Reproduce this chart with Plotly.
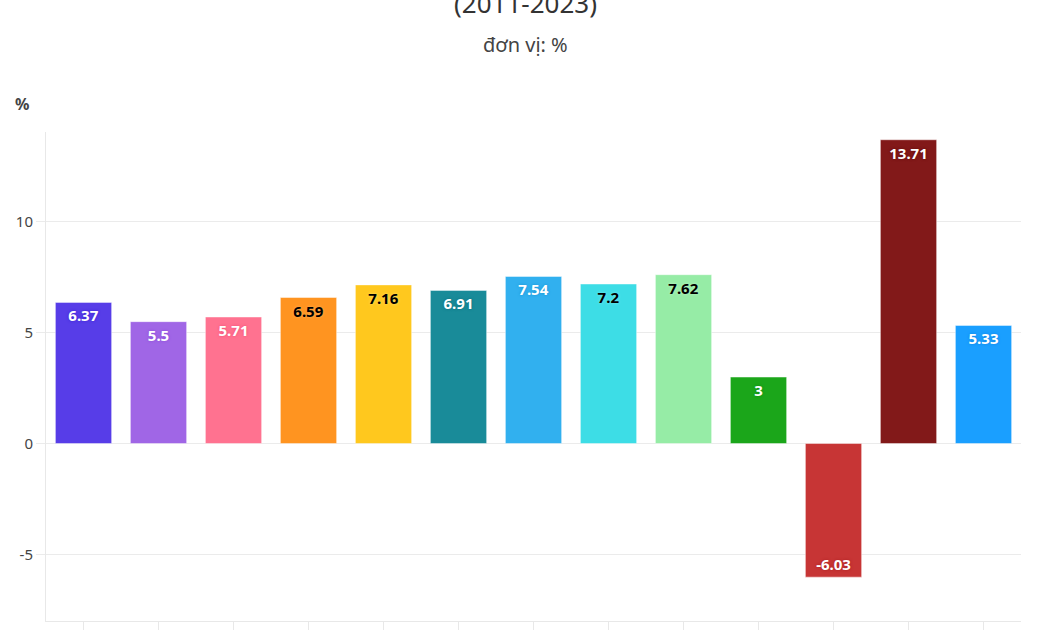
import plotly.graph_objects as go

years = ["2011", "2012", "2013", "2014", "2015", "2016", "2017", "2018", "2019", "2020", "2021", "2022", "2023"]
growth = [6.37, 5.5, 5.71, 6.59, 7.16, 6.91, 7.54, 7.2, 7.62, 3, -6.03, 13.71, 5.33]
bar_colors = ["#573de8", "#a066e6", "#ff7290", "#ff9420", "#ffc81e", "#198b99", "#31b0ef",
              "#3ddde6", "#96eca6", "#1ba61a", "#c73535", "#821919", "#1a9fff"]
label_colors = ["white", "white", "white", "black", "black", "white", "white",
                "black", "black", "white", "white", "white", "white"]
shadow_colors = ["#3a1fd0", "#8a45d6", "#f04a70", "#ffb060", "#ffe070", "#0b6e7c", "#1590d0",
                 "#80ecf0", "#c0f4c8", "#0a8a0a", "#a81e1e", "#5e0808", "#0a80e0"]
tick_vals = [-5, 0, 5, 10]
tick_text = ["-5", "0", "5", "10"]
title_text = "Tốc độ tăng trưởng kinh tế<br>(2011-2023)"
subtitle_text = "đơn vị: %"

FONT = "Noto Sans"
fig = go.Figure()
for i, (yr, v) in enumerate(zip(years, growth)):
    fig.add_trace(go.Bar(
        x=[yr], y=[v],
        marker=dict(color=bar_colors[i], line=dict(color="rgba(255,255,255,0.45)", width=1)),
        text=[f"{v:g}"], textposition="inside", insidetextanchor="end",
        textangle=0,
        textfont=dict(family=FONT, size=15, color=label_colors[i], weight="bold",
                      shadow=f"0px 0px 3px {shadow_colors[i]}"),
        showlegend=False, hoverinfo="x+y",
    ))

fig.update_layout(
    template="none",
    width=1050, height=630,
    margin=dict(l=46, r=29, t=132, b=9, autoexpand=False),
    barmode="relative", bargap=0.25,
    paper_bgcolor="white", plot_bgcolor="white",
    font=dict(family=FONT, color="#444"),
    annotations=[
        dict(text=title_text, xref="paper", yref="paper", x=(525 - 46) / 975, y=1 + (132 - 23) / 489,
             xanchor="center", yanchor="bottom", showarrow=False, align="center",
             font=dict(family=FONT, size=26, color="#333")),
        dict(text=subtitle_text, xref="paper", yref="paper", x=(525 - 46) / 975, y=1 + (132 - 45) / 489,
             xanchor="center", yanchor="middle", showarrow=False,
             font=dict(family=FONT, size=20, color="#444")),
        dict(text="<b>%</b>", xref="paper", yref="paper", x=(22 - 46) / 975, y=1 + (132 - 104) / 489,
             xanchor="center", yanchor="middle", showarrow=False,
             font=dict(family=FONT, size=16, color="#444")),
    ],
    xaxis=dict(type="category", automargin=False, showgrid=False, showline=True,
               linecolor="#e8e8e8", linewidth=1, ticks="outside", ticklen=12,
               tickcolor="#e8e8e8", tickfont=dict(size=15, color="#444"), zeroline=False),
    yaxis=dict(range=[-8.01, 14.06], automargin=False, showgrid=True, gridcolor="#ebebeb",
               gridwidth=1, showline=True, linecolor="#e8e8e8", linewidth=1,
               ticks="outside", ticklen=9, tickcolor="#ebebeb",
               tickvals=tick_vals, ticktext=tick_text,
               tickfont=dict(size=15, color="#444"), zeroline=True, zerolinecolor="#ebebeb",
               zerolinewidth=1),
)

fig.write_html("out.html")
